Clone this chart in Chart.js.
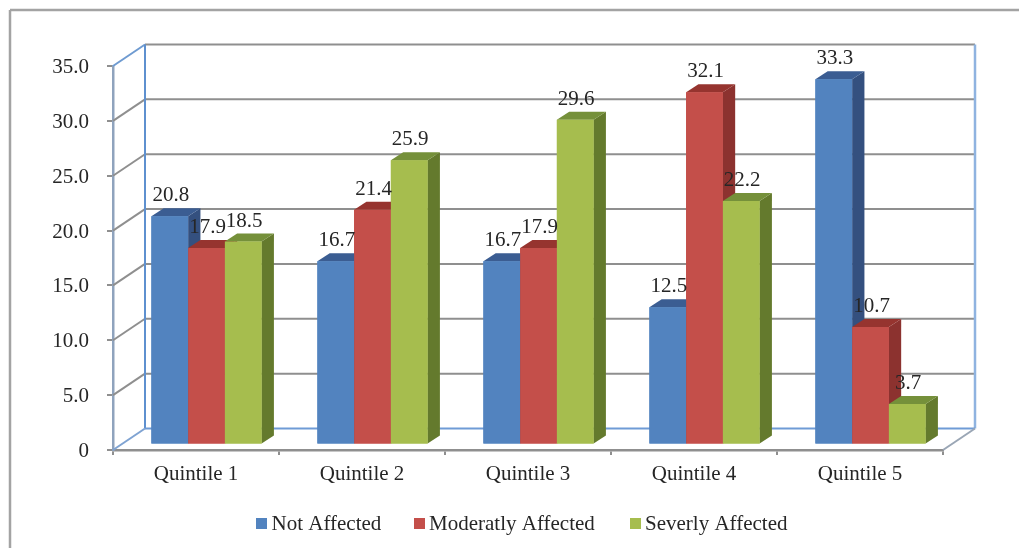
<!DOCTYPE html>
<html>
<head>
<meta charset="utf-8">
<style>html,body{margin:0;padding:0;background:#fff}canvas{display:block;filter:blur(0.45px)}</style>
<script src="https://cdn.jsdelivr.net/npm/chart.js@4"></script>
</head>
<body>
<canvas id="c" width="1019" height="548"></canvas>
<script>
const categories = ['Quintile 1','Quintile 2','Quintile 3','Quintile 4','Quintile 5'];
const notAffected = [20.8,16.7,16.7,12.5,33.3];
const moderatelyAffected = [17.9,21.4,17.9,32.1,10.7];
const severelyAffected = [18.5,25.9,29.6,22.2,3.7];
const seriesNames = ['Not Affected','Moderatly Affected','Severly Affected'];
const frontColors = ['#5283BF','#C44F4A','#A6BD4E'];
const sideColors = ['#34507F','#8C322F','#647A2D'];
const topColors = ['#3B5D92','#96342F','#75903A'];

const FONT = '"Liberation Serif","Times New Roman",serif';
const TEXT = '#262626';
const GRID = '#8f8f8f';
const WALL = {dx:32, dy:21.5};
const BAR_SHIFT = {dx:10.5, dy:5.5};
const DEPTH = {dx:12.3, dy:8};

function line(ctx,x1,y1,x2,y2,color,w){
  ctx.beginPath();ctx.moveTo(x1,y1);ctx.lineTo(x2,y2);
  ctx.strokeStyle=color;ctx.lineWidth=w;ctx.stroke();
}
function poly(ctx,pts,color){
  ctx.beginPath();pts.forEach((p,i)=>i?ctx.lineTo(p[0],p[1]):ctx.moveTo(p[0],p[1]));
  ctx.closePath();ctx.fillStyle=color;ctx.fill();
}

const frame3d = {
  id:'frame3d',
  beforeDatasetsDraw(chart){
    const {ctx,chartArea:a,scales:{y}}=chart;
    ctx.save();
    // outer picture frame
    line(ctx,10,10,1019,10,'#a3a3a3',2.5);
    line(ctx,10,10,10,548,'#a3a3a3',2.5);
    // gridlines across side and back wall
    y.ticks.forEach(t=>{
      const py=y.getPixelForValue(t.value);
      if(t.value===0)return;
      const top=t.value===35;
      line(ctx,a.left,py,a.left+WALL.dx,py-WALL.dy,top?'#6f9bd1':GRID,2);
      line(ctx,a.left+WALL.dx,py-WALL.dy,a.right+WALL.dx,py-WALL.dy,GRID,2);
    });
    // walls and floor
    const y0=y.getPixelForValue(0), yT=y.getPixelForValue(35);
    line(ctx,a.left+WALL.dx,yT-WALL.dy,a.left+WALL.dx,y0-WALL.dy,'#5e90cf',2);
    line(ctx,a.right+WALL.dx,yT-WALL.dy,a.right+WALL.dx,y0-WALL.dy,'#8fb3e0',2.5);
    line(ctx,a.left+WALL.dx,y0-WALL.dy,a.right+WALL.dx,y0-WALL.dy,'#6f9bd6',2);
    line(ctx,a.left,y0,a.left+WALL.dx,y0-WALL.dy,'#7fa3d2',2);
    line(ctx,a.right,y0,a.right+WALL.dx,y0-WALL.dy,'#9aa6b5',2);
    ctx.restore();
    // bars live on a plane set slightly into the floor
    ctx.save();
    ctx.translate(BAR_SHIFT.dx,-BAR_SHIFT.dy);
  },
  afterDatasetsDraw(chart){
    const {ctx}=chart;
    const metas=chart.data.datasets.map((d,i)=>chart.getDatasetMeta(i));
    metas.forEach((meta,i)=>{
      meta.data.forEach(el=>{
        const l=el.x-el.width/2,r=el.x+el.width/2,t=el.y,b=el.base;
        poly(ctx,[[r,t],[r+DEPTH.dx,t-DEPTH.dy],[r+DEPTH.dx,b-DEPTH.dy],[r,b]],sideColors[i]);
        poly(ctx,[[l,t],[l+DEPTH.dx,t-DEPTH.dy],[r+DEPTH.dx,t-DEPTH.dy],[r,t]],topColors[i]);
        el.draw(ctx,chart.chartArea);
      });
    });
    ctx.font='21px '+FONT;
    ctx.fillStyle=TEXT;
    ctx.textAlign='center';
    ctx.textBaseline='middle';
    metas.forEach((meta,i)=>{
      const vals=chart.data.datasets[i].data;
      meta.data.forEach((el,j)=>{
        ctx.fillText(vals[j].toFixed(1),el.x+1,el.y-DEPTH.dy-12.5);
      });
    });
    ctx.restore();
  },
  afterDraw(chart){
    // legend
    const {ctx}=chart;
    const boxes=[256,414,630], texts=[271.5,429,645], cy=524;
    ctx.save();
    ctx.font='21px '+FONT;
    ctx.textAlign='left';
    ctx.textBaseline='middle';
    chart.data.datasets.forEach((d,i)=>{
      ctx.fillStyle=d.backgroundColor;
      ctx.fillRect(boxes[i],cy-6,11,11);
      ctx.fillStyle=TEXT;
      ctx.fillText(d.label,texts[i],cy);
    });
    ctx.restore();
  }
};

new Chart(document.getElementById('c'),{
  type:'bar',
  data:{
    labels:categories,
    datasets:[notAffected,moderatelyAffected,severelyAffected].map((data,i)=>({
      label:seriesNames[i],data,backgroundColor:frontColors[i],
      borderWidth:0,barPercentage:1,categoryPercentage:0.664,clip:false
    }))
  },
  options:{
    responsive:false,animation:false,
    layout:{padding:{top:66,right:76,left:0,bottom:0}},
    plugins:{legend:{display:false},tooltip:{enabled:false}},
    scales:{
      x:{
        afterFit(s){s.height=98;},
        grid:{drawOnChartArea:false,drawTicks:true,tickLength:5,color:GRID,lineWidth:2},
        border:{color:GRID,width:2.5},
        ticks:{color:TEXT,font:{family:FONT,size:21},padding:7,maxRotation:0}
      },
      y:{
        min:0,max:35,
        afterFit(s){s.width=113;},
        grid:{drawOnChartArea:false,drawTicks:true,tickLength:6,color:GRID,lineWidth:2},
        border:{color:'#8fa3bd',width:2.5},
        ticks:{stepSize:5,color:TEXT,font:{family:FONT,size:21},padding:18,labelOffset:1.5,
          callback:v=>v===0?'0':v.toFixed(1)}
      }
    }
  },
  plugins:[frame3d]
});
</script>
</body>
</html>
